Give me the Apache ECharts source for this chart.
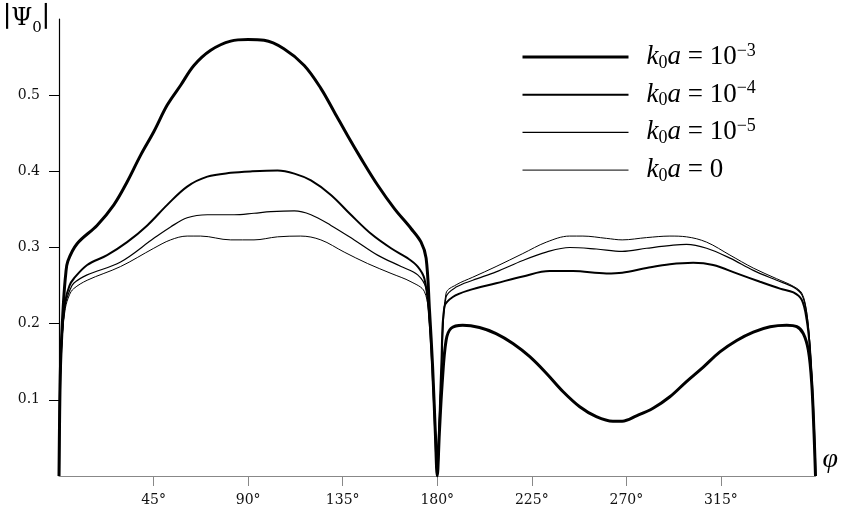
<!DOCTYPE html>
<html>
<head>
<meta charset="utf-8">
<script src="https://cdn.jsdelivr.net/npm/echarts@6/dist/echarts.min.js"></script>
<style>
html,body{margin:0;padding:0;background:#fff;}
#chart{width:842px;height:511px;}
</style>
</head>
<body>
<div id="chart"></div>
<script>
// ---- data (angle in degrees, |Psi0| values) ----
var anglesA = [0,0.3,0.7,1.4,2.2,3.2,4.2,8.6,18.1,26.1,32.4,38.8,45.1,51.5,57.9,64.2,72.2,81.7,90,97.6,107,116.7,124.6,131,137.3,143.7,151.6,159.6,167.5,172.3,174.7,176.3,177.8,179.1,180,181,182.3,184.2,186.6,192.1,200.1,208,216,223.9,231.9,239.8,247.8,255.7,263.6,268,274.8,282.7,290.7,298.6,306.6,314.5,322.5,330.4,338.4,346.3,351.1,354.2,356.6,358.2,359.3,360];
var valuesA = [0,0.08,0.143,0.19,0.231,0.265,0.282,0.305,0.329,0.356,0.386,0.421,0.452,0.487,0.513,0.539,0.559,0.571,0.573,0.572,0.561,0.539,0.509,0.478,0.447,0.417,0.382,0.351,0.325,0.307,0.286,0.218,0.143,0.056,0,0.056,0.12,0.178,0.194,0.198,0.195,0.187,0.174,0.157,0.135,0.111,0.091,0.078,0.072,0.072,0.079,0.089,0.104,0.124,0.143,0.163,0.178,0.189,0.196,0.198,0.196,0.187,0.165,0.122,0.056,0];

var anglesB = [0,0.3,0.7,1.5,3,5,7,13.4,22.9,32.4,42,51.5,61,70.6,81.7,92,104,112,119.9,129.4,138.9,148.5,158,165.9,170.7,173.9,176,177.7,179,180,181,182,183.4,187.4,195.3,208,220.7,233.5,244.6,260.5,268,279.6,290.7,301.8,311.3,322.5,333.6,343.1,349.5,353.5,355.8,357.4,358.7,359.6,360];
var valuesB = [0,0.08,0.14,0.19,0.23,0.25,0.259,0.277,0.290,0.307,0.329,0.356,0.380,0.393,0.398,0.400,0.401,0.397,0.388,0.369,0.343,0.318,0.299,0.286,0.275,0.259,0.215,0.14,0.06,0,0.07,0.15,0.222,0.235,0.244,0.253,0.262,0.269,0.269,0.266,0.267,0.273,0.278,0.280,0.277,0.266,0.255,0.246,0.241,0.231,0.205,0.165,0.100,0.04,0];

var anglesC = [0,0.3,0.7,1.5,3,5,7,13.4,29.3,45.1,53.1,61,70.6,83.3,92.8,100.8,112,119.9,129.4,140.5,151.6,162.8,170.7,174.7,176.5,178,179.1,180,181,182.2,184.2,189,196.9,208,220.7,231.9,243,255.7,268,279.6,292.3,298.6,308.2,319.3,330.4,341.5,349.5,353.5,355.8,357.4,358.7,359.6,360];
var valuesC = [0,0.08,0.135,0.185,0.225,0.243,0.253,0.264,0.281,0.312,0.327,0.339,0.343,0.343,0.345,0.347,0.348,0.343,0.329,0.310,0.290,0.275,0.264,0.246,0.2,0.13,0.06,0,0.07,0.15,0.235,0.248,0.257,0.268,0.283,0.294,0.300,0.298,0.295,0.299,0.303,0.304,0.299,0.286,0.270,0.257,0.248,0.238,0.214,0.17,0.10,0.04,0];

var anglesD = [0,0.3,0.7,1.5,3,5,7,13.4,29.3,45.1,53.1,61,67.4,81.7,92.8,104,115,124.6,135.7,146.8,158,167.5,173.9,176.3,178,179.1,180,181,182.2,184.2,189,196.9,208,220.7,231.9,243,249.3,260.5,268,279.6,290.7,298.6,308.2,319.3,330.4,341.5,349.5,353.5,355.8,357.4,358.7,359.6,360];
var valuesD = [0,0.08,0.13,0.18,0.22,0.238,0.246,0.257,0.275,0.299,0.310,0.315,0.315,0.310,0.310,0.314,0.315,0.310,0.294,0.279,0.266,0.255,0.242,0.2,0.13,0.06,0,0.07,0.15,0.240,0.251,0.261,0.275,0.292,0.307,0.315,0.315,0.312,0.310,0.313,0.315,0.314,0.307,0.290,0.273,0.259,0.249,0.240,0.215,0.17,0.10,0.04,0];

var seriesNames = ['k0a=1e-3','k0a=1e-4','k0a=1e-5','k0a=0'];
var legendLabels = [
  '{i|k}{s|0}{i|a}{n| = 10}{p|−3}',
  '{i|k}{s|0}{i|a}{n| = 10}{p|−4}',
  '{i|k}{s|0}{i|a}{n| = 10}{p|−5}',
  '{i|k}{s|0}{i|a}{n| = 0}{p| }'
];
var xTicks = [45,90,135,180,225,270,315];
var yTicks = [0.1,0.2,0.3,0.4,0.5];

function pairs(a, v){ return a.map(function(x,i){ return [x, v[i]]; }); }

var serif = "'DejaVu Serif', 'Liberation Serif', serif";
var lserif = "'Liberation Serif', serif";
var widths = [3, 2, 1.2, 1];
var dataSets = [pairs(anglesA,valuesA), pairs(anglesB,valuesB), pairs(anglesC,valuesC), pairs(anglesD,valuesD)];

var chart = echarts.init(document.getElementById('chart'), null, {renderer:'canvas'});
chart.setOption({
  animation: false,
  backgroundColor: '#fff',
  grid: {left: 59, right: 26.5, top: 19, bottom: 35, containLabel: false},
  legend: {
    show: true,
    orient: 'vertical',
    left: 521, top: 42, padding: 0,
    itemWidth: 106, itemHeight: 14, itemGap: 7.7,
    data: seriesNames.map(function(n, k){
      return {name: n, itemStyle: {opacity: 0}, lineStyle: {width: widths[k], color: '#000'}};
    }),
    formatter: function(name){ return legendLabels[seriesNames.indexOf(name)]; },
    textStyle: {
      padding: [0,0,0,13],
      color: '#000',
      rich: {
        i: {fontFamily: lserif, fontStyle: 'italic', fontSize: 27, lineHeight: 30, color:'#000'},
        n: {fontFamily: lserif, fontSize: 27, lineHeight: 30, color:'#000'},
        s: {fontFamily: lserif, fontSize: 18, lineHeight: 22, verticalAlign: 'bottom', color:'#000'},
        p: {fontFamily: lserif, fontSize: 18, lineHeight: 20, verticalAlign: 'top', color:'#000'}
      }
    }
  },
  xAxis: {
    type: 'value', min: 0, max: 360, interval: 45,
    name: 'φ',
    nameLocation: 'end', nameGap: 7,
    nameTextStyle: {fontFamily: lserif, fontStyle: 'italic', fontSize: 28, color: '#000', verticalAlign: 'bottom', padding: [0,0,2,0]},
    axisLine: {show: true, onZero: false, lineStyle: {color: '#888', width: 1.2}},
    axisTick: {show: true, length: 10, inside: false, customValues: xTicks, lineStyle: {color: '#888', width: 1}},
    axisLabel: {show: true, customValues: xTicks, margin: 17, fontFamily: serif, fontSize: 14, color: '#111',
      formatter: function(v){ return v + '°'; }},
    splitLine: {show: false}
  },
  yAxis: {
    type: 'value', min: 0, max: 0.6, interval: 0.1,
    name: '{b|∣}{P|Ψ}{s|0}{b|∣}',
    nameLocation: 'end', nameGap: 0,
    nameTextStyle: {align: 'right', verticalAlign: 'middle', padding: [0,9,0,0],
      rich: {
        b: {fontFamily: serif, fontSize: 28, lineHeight: 34, color: '#000'},
        P: {fontFamily: serif, fontSize: 24, lineHeight: 34, color: '#000'},
        s: {fontFamily: serif, fontSize: 15, lineHeight: 24, verticalAlign: 'bottom', color: '#000'}
      }},
    axisLine: {show: true, lineStyle: {color: '#000', width: 1.2}},
    axisTick: {show: true, length: 10, inside: false, customValues: yTicks, lineStyle: {color: '#000', width: 1}},
    axisLabel: {show: true, customValues: yTicks, margin: 19, fontFamily: serif, fontSize: 14, color: '#111',
      formatter: function(v){ return v.toFixed(1); }},
    splitLine: {show: false}
  },
  series: seriesNames.map(function(n, k){
    return {
      name: n, type: 'line', data: dataSets[k],
      symbol: 'none', showSymbol: false, smooth: 0.35,
      clip: true,
      lineStyle: {color: '#000', width: widths[k]},
      itemStyle: {color: '#000'},
      z: 10 - k
    };
  })
});
</script>
</body>
</html>
